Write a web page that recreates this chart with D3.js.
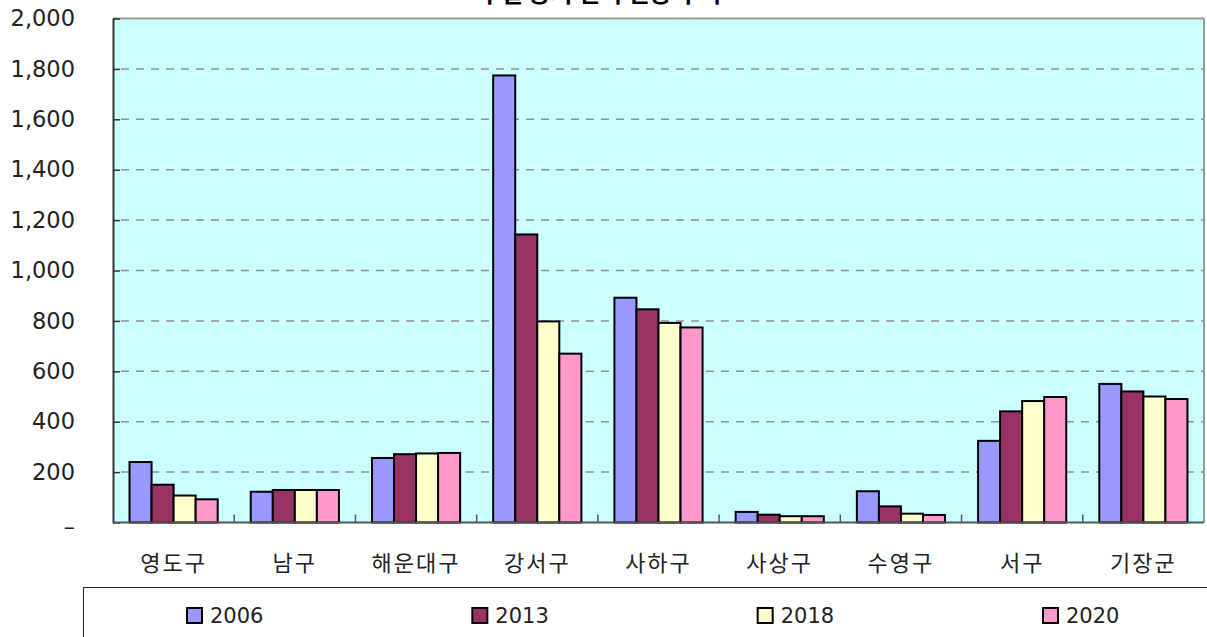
<!DOCTYPE html>
<html>
<head>
<meta charset="utf-8">
<script src="https://cdn.jsdelivr.net/npm/d3@7"></script>
<style>
  html, body { margin: 0; padding: 0; background: #fff; }
  svg { display: block; }
</style>
</head>
<body>
<svg id="chart" width="1207" height="637"></svg>
<script>
// Districts along the x axis
const categories = ["영도구", "남구", "해운대구", "강서구", "사하구", "사상구", "수영구", "서구", "기장군"];
// Survey years (one bar per year in each district)
const years = ["2006", "2013", "2018", "2020"];
// Values per year, in district order
const values2006 = [240, 122, 256, 1774, 892, 42, 124, 324, 550];
const values2013 = [150, 129, 271, 1143, 846, 31, 64, 441, 520];
const values2018 = [107, 129, 274, 798, 792, 25, 35, 482, 500];
const values2020 = [92, 129, 276, 670, 774, 25, 30, 498, 490];
const seriesValues = [values2006, values2013, values2018, values2020];
// Y axis ticks
const yTicks = [0, 200, 400, 600, 800, 1000, 1200, 1400, 1600, 1800, 2000];
const colors = ["#9999FF", "#993366", "#FFFFCC", "#FF99CC"];

const svg = d3.select("#chart");
const plot = { left: 113, right: 1204, top: 18.5, bottom: 522.5 };

const x0 = d3.scaleBand().domain(categories).range([plot.left, plot.right]).padding(0);
const x1 = d3.scaleBand().domain(years).range([0, x0.bandwidth()]).paddingInner(0).paddingOuter(0.75);
const y = d3.scaleLinear().domain([0, 2000]).range([plot.bottom, plot.top]);

// Title (sits mostly above the visible page)
svg.append("text")
  .attr("x", 600).attr("y", 2)
  .attr("text-anchor", "middle")
  .attr("font-family", "'Noto Sans CJK KR', sans-serif")
  .attr("font-weight", "bold")
  .attr("font-size", 24)
  .attr("fill", "#000")
  .text("구별 농지 면적 변동 추이");

// Plot background
svg.append("rect")
  .attr("x", plot.left).attr("y", plot.top)
  .attr("width", plot.right - plot.left).attr("height", plot.bottom - plot.top)
  .attr("fill", "#CCFFFF");

// Dashed gridlines
svg.append("g")
  .selectAll("line")
  .data(yTicks.filter(d => d > 0 && d < 2000))
  .join("line")
  .attr("x1", plot.left + 8).attr("x2", plot.right)
  .attr("y1", d => y(d)).attr("y2", d => y(d))
  .attr("stroke", "#8f8f8f")
  .attr("stroke-width", 1.5)
  .attr("stroke-dasharray", "8,7");

// Frame: light top/right, dark left/bottom
svg.append("line").attr("x1", plot.left).attr("x2", plot.right).attr("y1", plot.top).attr("y2", plot.top)
  .attr("stroke", "#999").attr("stroke-width", 2);
svg.append("line").attr("x1", plot.right).attr("x2", plot.right).attr("y1", plot.top).attr("y2", plot.bottom)
  .attr("stroke", "#999").attr("stroke-width", 2);

// Bars
const groups = svg.append("g")
  .selectAll("g")
  .data(categories)
  .join("g")
  .attr("transform", d => `translate(${x0(d)},0)`);

groups.selectAll("rect")
  .data((d, i) => years.map((yr, k) => ({ yr, v: seriesValues[k][i], k })))
  .join("rect")
  .attr("x", d => x1(d.yr))
  .attr("y", d => y(d.v))
  .attr("width", x1.bandwidth())
  .attr("height", d => y(0) - y(d.v))
  .attr("fill", d => colors[d.k])
  .attr("stroke", "#000")
  .attr("stroke-width", 2);

// Y axis with inward ticks
const yAxis = d3.axisLeft(y)
  .tickValues(yTicks)
  .tickSizeInner(-7)
  .tickSizeOuter(0)
  .tickPadding(38)
  .tickFormat(d => d === 0 ? "–" : d3.format(",")(d));

const yg = svg.append("g").attr("transform", `translate(${plot.left},0)`).call(yAxis);
yg.select(".domain").attr("stroke", "#333").attr("stroke-width", 2);
yg.selectAll(".tick line").attr("stroke", "#333").attr("stroke-width", 1.5);
yg.selectAll(".tick text")
  .attr("font-family", "'DejaVu Sans', sans-serif")
  .attr("font-size", 22.5)
  .attr("fill", "#222")
  .attr("dy", d => d === 0 ? "0.55em" : "0.32em");

// X axis: ticks between categories pointing up
const xg = svg.append("g");
xg.append("line")
  .attr("x1", plot.left).attr("x2", plot.right)
  .attr("y1", plot.bottom).attr("y2", plot.bottom)
  .attr("stroke", "#555").attr("stroke-width", 2);
xg.selectAll("line.tick")
  .data(categories.slice(1))
  .join("line")
  .attr("class", "tick")
  .attr("x1", d => x0(d)).attr("x2", d => x0(d))
  .attr("y1", plot.bottom).attr("y2", plot.bottom - 8)
  .attr("stroke", "#555").attr("stroke-width", 1.5);
xg.selectAll("text")
  .data(categories)
  .join("text")
  .attr("x", d => x0(d) + x0.bandwidth() / 2)
  .attr("y", 561)
  .attr("text-anchor", "middle")
  .attr("dominant-baseline", "central")
  .attr("font-family", "'Noto Sans CJK KR', sans-serif")
  .attr("font-size", 22)
  .attr("letter-spacing", 2)
  .attr("fill", "#222")
  .text(d => d);

// Legend box (runs past the page edge)
svg.append("rect")
  .attr("x", 83.5).attr("y", 587.5)
  .attr("width", 1200).attr("height", 100)
  .attr("fill", "#fff")
  .attr("stroke", "#222").attr("stroke-width", 1);

const legendX = d3.scalePoint().domain(years).range([186, 1042]);
const lg = svg.append("g")
  .selectAll("g")
  .data(years)
  .join("g")
  .attr("transform", d => `translate(${legendX(d)},607)`);
lg.append("rect")
  .attr("x", 1).attr("y", 1)
  .attr("width", 15).attr("height", 15)
  .attr("fill", (d, i) => colors[i])
  .attr("stroke", "#000").attr("stroke-width", 2);
lg.append("text")
  .attr("x", 24).attr("y", 8.5)
  .attr("dominant-baseline", "central")
  .attr("font-family", "'DejaVu Sans', sans-serif")
  .attr("font-size", 21)
  .attr("fill", "#222")
  .text(d => d);
</script>
</body>
</html>
